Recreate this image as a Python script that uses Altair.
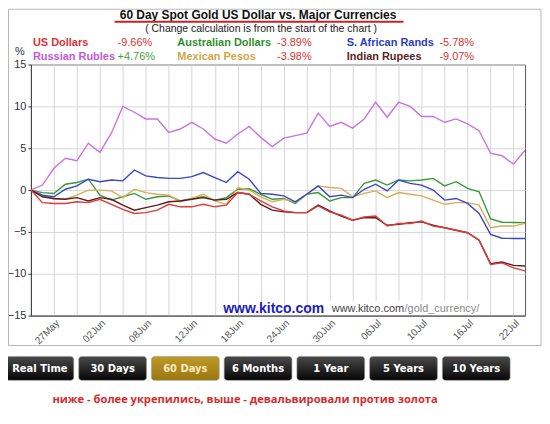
import json
import altair as alt
import pandas as pd

# ---------------- data ----------------
dates = ["25May", "26May", "27May", "28May", "29May", "01Jun", "02Jun", "03Jun", "04Jun", "05Jun",
         "08Jun", "09Jun", "10Jun", "11Jun", "12Jun", "15Jun", "16Jun", "17Jun", "18Jun", "19Jun",
         "22Jun", "23Jun", "24Jun", "25Jun", "26Jun", "29Jun", "30Jun", "01Jul", "02Jul", "03Jul",
         "06Jul", "07Jul", "08Jul", "09Jul", "10Jul", "13Jul", "14Jul", "15Jul", "16Jul", "17Jul",
         "20Jul", "21Jul", "22Jul", "23Jul"]

usd = [0, -1.5, -1.6, -1.6, -1.4, -1.5, -1.1, -1.7, -2.3, -2.8, -2.7, -2.4, -1.7, -2.0, -2.0, -1.7,
       -2.0, -1.8, -0.3, -0.5, -1.3, -2.0, -2.5, -2.7, -2.7, -1.9, -2.6, -3.0, -3.6, -3.2, -3.1, -4.3,
       -4.0, -4.0, -3.7, -4.3, -4.5, -4.8, -5.1, -6.0, -8.9, -8.7, -9.3, -9.66]
rub = [0, 0.6, 2.6, 3.8, 3.5, 5.6, 4.5, 6.8, 10.0, 9.3, 8.5, 8.5, 6.9, 7.3, 8.1, 7.3, 6.1, 5.6, 6.7,
       7.6, 6.3, 5.2, 6.2, 6.5, 6.8, 9.2, 7.6, 8.1, 7.4, 8.5, 10.5, 8.7, 10.5, 10.0, 8.8, 8.8, 8.1, 8.5,
       7.9, 7.1, 4.4, 4.1, 3.1, 4.76]
zar = [0, -0.6, -0.8, 0.1, 0.5, 1.3, 1.0, 1.2, 1.1, 2.4, 1.7, 1.5, 1.4, 1.4, 1.6, 2.1, 1.5, 0.9, 2.2,
       1.3, -0.4, -0.5, -0.7, -1.4, -0.5, 0.5, -0.8, -0.6, -0.9, 0.1, 0.7, -0.1, 1.2, 0.8, 0.6, 0.0,
       -1.2, -1.0, -1.6, -2.8, -5.3, -5.75, -5.78, -5.78]
aud = [0, -0.3, -0.4, 0.7, 0.9, 1.3, -0.6, -1.2, -0.8, -0.4, -1.1, -0.8, -0.7, -1.3, -1.0, -0.8, -1.2,
       -0.9, 0.1, 0.15, -0.5, -1.1, -1.0, -1.6, -0.5, -0.3, -1.3, -0.9, -0.9, 0.8, 1.2, 0.6, 1.2, 1.1,
       1.2, 1.4, 0.5, 1.0, 0.2, -0.2, -3.45, -3.85, -3.87, -3.89]
mxn = [0, -0.6, -1.1, -1.1, -0.6, 0.0, 0.0, -0.1, -0.9, 0.1, -0.3, -0.5, -0.6, -1.4, -1.0, -0.5, -1.3,
       -1.7, 0.3, 0.0, -0.8, -1.4, -1.1, -1.4, -0.5, 0.5, 0.3, 0.2, -0.8, -0.4, -0.1, -0.9, -0.3, -0.5,
       -0.7, -1.2, -1.7, -1.5, -1.5, -1.8, -4.5, -4.3, -4.3, -3.98]
inr = [0, -0.8, -1.0, -1.1, -0.9, -1.3, -0.9, -1.1, -1.8, -2.4, -2.1, -1.8, -1.4, -1.3, -1.1, -0.9,
       -1.2, -1.1, -0.3, -0.5, -1.7, -2.4, -2.6, -2.7, -2.7, -1.8, -2.5, -3.1, -3.6, -3.3, -3.3, -4.2,
       -4.1, -3.9, -3.8, -4.2, -4.5, -4.8, -5.1, -6.0, -8.8, -8.6, -9.0, -9.07]

series_names = ["Australian Dollars", "Mexican Pesos", "S. African Rands", "Russian Rubles",
                "Indian Rupees", "US Dollars"]
series_values = [aud, mxn, zar, rub, inr, usd]
series_colors = ["#3a9a3a", "#d8ac58", "#3a46c8", "#cc72e0", "#5a1e1e", "#e03a3a"]

legend_rows = [
    [("US Dollars", "#d83434", "-9.66%", "#d83434"),
     ("Australian Dollars", "#2f8f2f", "-3.89%", "#d83434"),
     ("S. African Rands", "#2b3ec0", "-5.78%", "#d83434")],
    [("Russian Rubles", "#c05ad8", "+4.76%", "#3aa53a"),
     ("Mexican Pesos", "#d4a548", "-3.98%", "#d83434"),
     ("Indian Rupees", "#5a2424", "-9.07%", "#d83434")],
]
buttons = ["Real Time", "30 Days", "60 Days", "6 Months", "1 Year", "5 Years", "10 Years"]
active_button = "60 Days"

# ---------------- table ----------------
rows = []
for name, vals in zip(series_names, series_values):
    assert len(vals) == len(dates), name
    for i, v in enumerate(vals):
        rows.append({"day": i, "date": dates[i], "series": name, "pct": v})
df = pd.DataFrame(rows)
one = pd.DataFrame({"k": [0]})

W, H = 496, 252
FONT = "Liberation Sans"

label_expr = "(datum.value - 2) % 4 == 0 ? " + json.dumps(dates) + "[datum.value] : ''"

lines = alt.Chart(df).mark_line(strokeWidth=1.4, clip=True).encode(
    x=alt.X("day:Q", scale=alt.Scale(domain=[0, len(dates) - 1], nice=False, zero=False),
            axis=alt.Axis(values=list(range(2, len(dates) - 1, 2)), labelExpr=label_expr,
                          labelAngle=-45, labelAlign="right", labelBaseline="top",
                          labelFontSize=10, labelColor="#555", labelFont=FONT, labelPadding=2,
                          ticks=False, title=None, domainColor="#444",
                          gridColor="#d6d6d6", labelOverlap=False)),
    y=alt.Y("pct:Q", scale=alt.Scale(domain=[-15, 15], nice=False),
            axis=alt.Axis(values=[-15, -10, -5, 0, 5, 10, 15], labelFontSize=11, labelColor="#333",
                          labelFont=FONT, tickSize=3, tickColor="#333", labelPadding=2,
                          title=None, domainColor="#444", gridColor="#d6d6d6")),
    color=alt.Color("series:N", scale=alt.Scale(domain=series_names, range=series_colors),
                    legend=None),
    order=alt.Order("day:Q"),
    detail="series:N",
)


def txt(s, x, y, size, color, bold=False, align="left", font=FONT):
    return alt.Chart(one).mark_text(
        text=s, align=align, baseline="middle", fontSize=size,
        fontWeight="bold" if bold else "normal", font=font, color=color
    ).encode(x=alt.value(x), y=alt.value(y))


layers = []
# outer frame
layers.append(alt.Chart(one).mark_rect(fillOpacity=0, stroke="#b8b8b8", strokeWidth=1).encode(
    x=alt.value(-22.5), x2=alt.value(512), y=alt.value(-55.5), y2=alt.value(282)))
layers.append(lines)

# title block
layers.append(txt("60 Day Spot Gold US Dollar vs. Major Currencies", 228, -50, 12, "#111", bold=True,
                  align="center"))
layers.append(alt.Chart(one).mark_rule(color="#cc2222", strokeWidth=2).encode(
    x=alt.value(84), x2=alt.value(374), y=alt.value(-43)))
layers.append(txt("( Change calculation is from the start of the chart )", 231, -36, 10.5, "#222",
                  align="center"))
layers.append(txt("%", -16, -13, 11, "#333"))

col_x = [(2, 87), (147, 247), (317, 410)]
row_y = [-21.5, -7.5]
for r, row in enumerate(legend_rows):
    for c, (lab, lc, pct, pc) in enumerate(row):
        layers.append(txt(lab, col_x[c][0], row_y[r], 11, lc, bold=True))
        layers.append(txt(pct, col_x[c][1], row_y[r], 11, pc))

# watermarks
layers.append(txt("www.kitco.com", 193, 245, 14, "#1c1cc0", bold=True))
layers.append(alt.Chart(one).mark_rect(fill="white").encode(
    x=alt.value(299), x2=alt.value(449), y=alt.value(237), y2=alt.value(251)))
layers.append(txt("www.kitco.com", 302, 245, 11, "#444"))
layers.append(txt("/gold_currency/", 375, 245, 11, "#8a8a8a"))

# buttons
for i, b in enumerate(buttons):
    x0 = -25 + 73 * i
    if b == active_button:
        fill = alt.Gradient(gradient="linear", x1=0, x2=0, y1=0, y2=1,
                            stops=[alt.GradientStop(color="#bf9a26", offset=0),
                                   alt.GradientStop(color="#9a760f", offset=1)])
        tc = "#f6ebc4"
    else:
        fill = alt.Gradient(gradient="linear", x1=0, x2=0, y1=0, y2=1,
                            stops=[alt.GradientStop(color="#4a4a4a", offset=0),
                                   alt.GradientStop(color="#050505", offset=1)])
        tc = "#ffffff"
    layers.append(alt.Chart(one).mark_rect(fill=fill, cornerRadius=3, stroke="#9a9a9a",
                                           strokeWidth=0.6).encode(
        x=alt.value(x0), x2=alt.value(x0 + 68), y=alt.value(293), y2=alt.value(317)))
    layers.append(txt(b, x0 + 34, 306, 10, tc, bold=True, align="center", font="DejaVu Sans"))

layers.append(txt("ниже - более укрепились, выше - девальвировали против золота", 215, 337, 11.2,
                  "#d42c2c", bold=True, align="center", font="Open Sans"))

chart = alt.layer(*layers).properties(
    width=W, height=H,
    autosize=alt.AutoSizeParams(type="none"),
    padding={"left": 23, "top": 56, "right": 17, "bottom": 96},
    background="white",
).configure_view(stroke="#555", strokeWidth=1)

chart.save("out.html", embed_options={"renderer": "svg", "actions": False})
